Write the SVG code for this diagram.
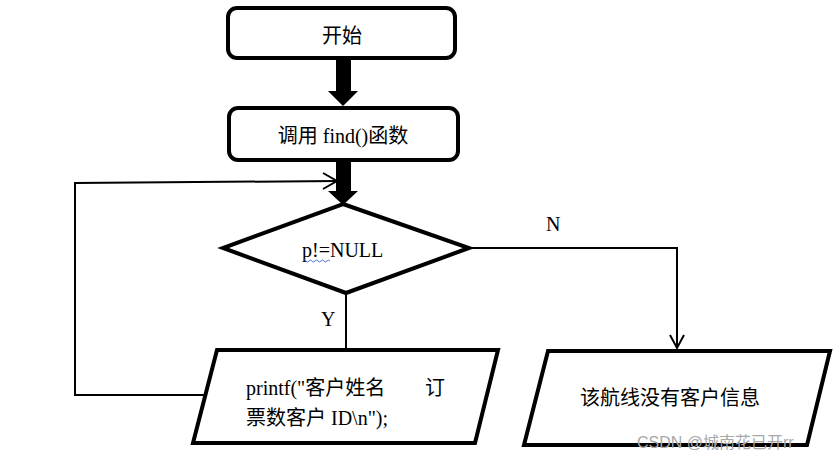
<svg xmlns="http://www.w3.org/2000/svg" width="836" height="463" viewBox="0 0 836 463">
<style>
.shape{fill:#fff;stroke:#000;stroke-width:4;stroke-linejoin:miter}
.line{fill:none;stroke:#000;stroke-width:2}
.t{font-family:"Liberation Serif","Noto Sans CJK SC",serif;font-size:20px;fill:#000}
.thick{fill:#000}
</style>
<rect width="836" height="463" fill="#fff"/>
<g id="connectors">
  <polygon class="thick" points="336,58 351,58 351,91 358,91 343,106 328,91 336,91"/>
  <polygon class="thick" points="336,160 351,160 351,191 358,191 343,205 328,191 336,191"/>
  <polyline class="line" points="206,395 75,395 75,183 337,181"/>
  <polyline class="line" points="323,173 337,181 323,189"/>
  <line class="line" x1="346" y1="293" x2="346" y2="349"/>
  <polyline class="line" points="469,248 677,248 677,348"/>
  <polyline class="line" points="670,335 677,348 684,335"/>
  <text class="t" x="321" y="326" font-size="19">Y</text>
  <text class="t" x="546" y="231" font-size="19">N</text>
</g>
<g id="start">
  <rect class="shape" x="228" y="8" width="227" height="50" rx="9"/>
  <text class="t" x="342" y="43" text-anchor="middle">开始</text>
</g>
<g id="call">
  <rect class="shape" x="229" y="108" width="229" height="52" rx="9"/>
  <text class="t" x="343" y="143" text-anchor="middle">调用 find()函数</text>
</g>
<g id="decision">
  <polygon class="shape" points="343,204 469,248 346,293 223,248"/>
  <text class="t" x="302" y="257">p!=NULL</text>
  <path d="M303,261 q1.5,-2 3,0 t3,0 t3,0 t3,0 t3,0 t3,0 t3,0 t3,0 t3,0" fill="none" stroke="#4a74d8" stroke-width="1"/>
</g>
<g id="print">
  <polygon class="shape" points="217,350 498,350 475,443 193,443"/>
  <text class="t" x="246" y="395" font-size="19">printf("客户姓名<tspan x="425">订</tspan></text>
  <text class="t" x="246" y="425" font-size="19">票数客户 ID\n");</text>
</g>
<g id="none">
  <polygon class="shape" points="548,351 830,351 807,445 524,445"/>
  <text class="t" x="670" y="405" text-anchor="middle">该航线没有客户信息</text>
</g>
<text x="637" y="448" font-family="Liberation Sans,Noto Sans CJK SC,sans-serif" font-size="16" fill="#a8a8a8">CSDN @城南花已开rr</text>
</svg>
